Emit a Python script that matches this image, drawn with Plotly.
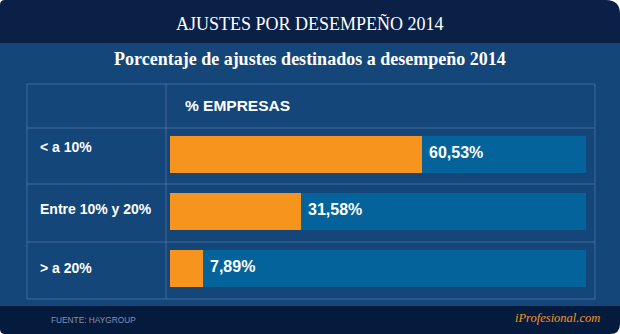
import plotly.graph_objects as go

# ---- data ----
categories = ["< a 10%", "Entre 10% y 20%", "> a 20%"]
values = [60.53, 31.58, 7.89]
track_max = 100
header_label = "% EMPRESAS"
title_text = "AJUSTES POR DESEMPEÑO 2014"
subtitle_text = "Porcentaje de ajustes destinados a desempeño 2014"
source_text = "FUENTE: HAYGROUP"
brand_text = "iProfesional.com"

W, H = 620, 334
def px(x):
    return x / W
def py(y):
    return 1 - y / H

C_TOP = "#0b2046"
C_MID = "#154679"
C_BOT = "#051b3d"
C_TRACK = "#03639a"
C_ORANGE = "#f7941e"
C_GRID = "rgba(95,130,175,0.6)"

fig = go.Figure()
fig.add_trace(go.Bar(
    y=categories, x=[track_max] * len(categories), orientation="h",
    marker=dict(color=C_TRACK, line=dict(width=0)), width=0.65,
    hoverinfo="skip", showlegend=False))
fig.add_trace(go.Bar(
    y=categories, x=values, orientation="h",
    marker=dict(color=C_ORANGE, line=dict(width=0)), width=0.65,
    showlegend=False))

def fmt(v):
    return f"{v:.2f}".replace(".", ",") + "%"

annotations = []
for c, v in zip(categories, values):
    annotations.append(dict(
        x=v, y=c, xref="x", yref="y", text=fmt(v), showarrow=False,
        xanchor="left", yanchor="middle", xshift=5, yshift=2,
        font=dict(family="Liberation Sans, Arial", size=16, color="white", weight="bold")))

row_label_y = [147, 209, 268]
for c, yy in zip(categories, row_label_y):
    annotations.append(dict(
        x=px(38), y=py(yy), xref="paper", yref="paper", text=c, showarrow=False,
        xanchor="left", yanchor="middle",
        font=dict(family="Liberation Sans, Arial", size=14, color="white", weight="bold")))

annotations += [
    dict(x=px(183), y=py(106), xref="paper", yref="paper", text=header_label,
         showarrow=False, xanchor="left", yanchor="middle",
         font=dict(family="Liberation Sans, Arial", size=15.5, color="white", weight="bold")),
    dict(x=0.5, y=py(23), xref="paper", yref="paper", text=title_text,
         showarrow=False, xanchor="center", yanchor="middle",
         font=dict(family="Liberation Serif, serif", size=18, color="white")),
    dict(x=0.5, y=py(59), xref="paper", yref="paper", text=subtitle_text,
         showarrow=False, xanchor="center", yanchor="middle",
         font=dict(family="Liberation Serif, serif", size=18, color="white", weight="bold")),
    dict(x=px(49), y=py(320), xref="paper", yref="paper", text=source_text,
         showarrow=False, xanchor="left", yanchor="middle",
         font=dict(family="Liberation Sans, Arial", size=8.3, color="#8194b3")),
    dict(x=px(602), y=py(318), xref="paper", yref="paper", text=brand_text,
         showarrow=False, xanchor="right", yanchor="middle",
         font=dict(family="Liberation Serif, serif", size=12.5, color=C_ORANGE, style="italic")),
]

def P(x, y):
    return f"{px(x):.5f},{py(y):.5f}"

top_path = (f"M {P(0,5)} Q {P(0,0)} {P(5,0)} L {P(606,0)} Q {P(620,0)} {P(620,14)} "
            f"L {P(620,43)} L {P(0,43)} Z")
bot_path = (f"M {P(0,306)} L {P(620,306)} L {P(620,324)} Q {P(620,334)} {P(610,334)} "
            f"L {P(5,334)} Q {P(0,334)} {P(0,329)} Z")

shapes = [
    dict(type="rect", xref="paper", yref="paper", x0=0, x1=1, y0=py(306), y1=py(43),
         fillcolor=C_MID, line=dict(width=0), layer="below"),
    dict(type="path", xref="paper", yref="paper", path=top_path,
         fillcolor=C_TOP, line=dict(width=0), layer="below"),
    dict(type="path", xref="paper", yref="paper", path=bot_path,
         fillcolor=C_BOT, line=dict(width=0), layer="below"),
]
# table grid lines
for (x0, y0, x1, y1) in [
    (27, 84, 595, 84), (27, 128, 595, 128), (27, 184, 595, 184), (27, 242, 595, 242),
    (27, 299, 595, 299), (27, 84, 27, 299), (166, 84, 166, 299), (595, 84, 595, 299)]:
    shapes.append(dict(type="line", xref="paper", yref="paper",
                       x0=px(x0), y0=py(y0), x1=px(x1), y1=py(y1),
                       line=dict(color=C_GRID, width=1), layer="below"))

fig.update_layout(
    width=W, height=H, margin=dict(l=0, r=0, t=0, b=0),
    paper_bgcolor="white", plot_bgcolor="rgba(0,0,0,0)",
    barmode="overlay", bargap=0,
    xaxis=dict(domain=[px(170), px(586)], range=[0, track_max], visible=False, fixedrange=True),
    yaxis=dict(domain=[py(297), py(126)], range=[2.5, -0.5], visible=False,
               categoryorder="array", categoryarray=categories, fixedrange=True),
    annotations=annotations, shapes=shapes,
)

fig.write_html("out.html")
